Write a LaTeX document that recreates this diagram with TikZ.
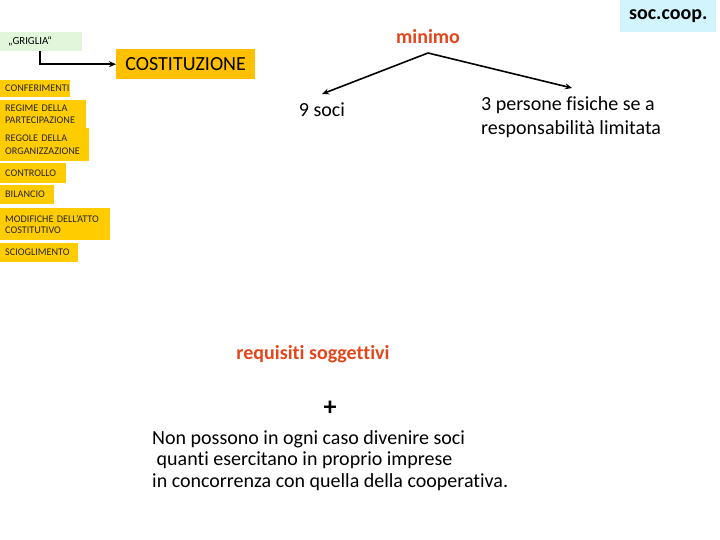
\documentclass[tikz,border=0pt]{standalone}
\usepackage{fontspec}
\setmainfont{Carlito}[Ligatures=NoCommon]
\usetikzlibrary{arrows.meta}
\definecolor{ybox}{HTML}{FFCC00}
\definecolor{obox}{HTML}{FFC000}
\definecolor{gbox}{HTML}{E2F6DC}
\definecolor{cbox}{HTML}{D2F4FC}
\definecolor{redtxt}{HTML}{E2461B}
\tikzset{
  lbox/.style={anchor=north west, fill=ybox, inner xsep=5pt, inner ysep=0pt, align=left,
     font=\fontsize{10.2}{11.5}\selectfont, text=black!85},
  big/.style={font=\fontsize{20}{24}\selectfont, inner sep=0pt},
  conn/.style={line width=1.6pt, -{Stealth[length=7pt,width=6pt]}},
}
\begin{document}
\begin{tikzpicture}[x=1pt,y=-1pt]
\useasboundingbox (0,0) rectangle (720,540);
% griglia
\node[anchor=north west, fill=gbox, minimum width=82, minimum height=19, inner xsep=8pt, inner ysep=0pt, text width=66, align=left, font=\fontsize{10.8}{11}\selectfont] (grid) at (0,32) {„GRIGLIA“};
\node[anchor=north west, fill=obox, minimum width=139, minimum height=30, inner sep=0pt, font=\fontsize{20}{24}\selectfont] (cost) at (116,49) {COSTITUZIONE};
\draw[conn] (40,51) |- (cost.west);
% left boxes
\node[lbox, minimum height=17, text width=60] (conf) at (0,80) {CONFERIMENTI};
\node[lbox, minimum height=28, text width=76] (reg) at (0,100) {REGIME DELLA\\PARTECIPAZIONE};
\node[lbox, minimum height=33, text width=79] (org) at (0,128) {REGOLE DELLA\\[1pt]ORGANIZZAZIONE};
\node[lbox, minimum height=20, text width=56] (contr) at (0,163) {CONTROLLO};
\node[lbox, minimum height=19, text width=44] (bil) at (0,185) {BILANCIO};
\node[lbox, minimum height=32, text width=100] (mod) at (0,208) {MODIFICHE DELL'ATTO\\COSTITUTIVO};
\node[lbox, minimum height=19, text width=68] (sci) at (0,243) {SCIOGLIMENTO};
% soc coop
\node[anchor=north west, fill=cbox, minimum width=96, minimum height=32, inner sep=0pt, font=\fontsize{20}{24}\selectfont\bfseries] (soc) at (620,0) {soc.coop.};
% minimo
\node[big, text=redtxt, font=\fontsize{20}{24}\selectfont\bfseries] (min) at (428,37) {minimo};
\coordinate (apex) at (428,53);
\node[big] (nove) at (322,110) {9 soci};
\node[big, anchor=north west, align=left, font=\fontsize{20}{24.5}\selectfont] (tre) at (481,96) {3 persone fisiche se a\\responsabilità limitata};
\draw[conn] (apex) -- (322,94);
\draw[conn] (apex) -- (572,88);
% requisiti
\node[big, text=redtxt, font=\fontsize{20}{24}\selectfont\bfseries] (req) at (313,354) {requisiti soggettivi};
\node[inner sep=0pt, font=\fontsize{26}{26}\selectfont\bfseries] (plus) at (330,408) {+};
\node[big, anchor=north west, align=left, font=\fontsize{20}{21.7}\selectfont] (non) at (152,430) {Non possono in ogni caso divenire soci\\\ quanti esercitano in proprio imprese\\in concorrenza con quella della cooperativa.};
\end{tikzpicture}
\end{document}
